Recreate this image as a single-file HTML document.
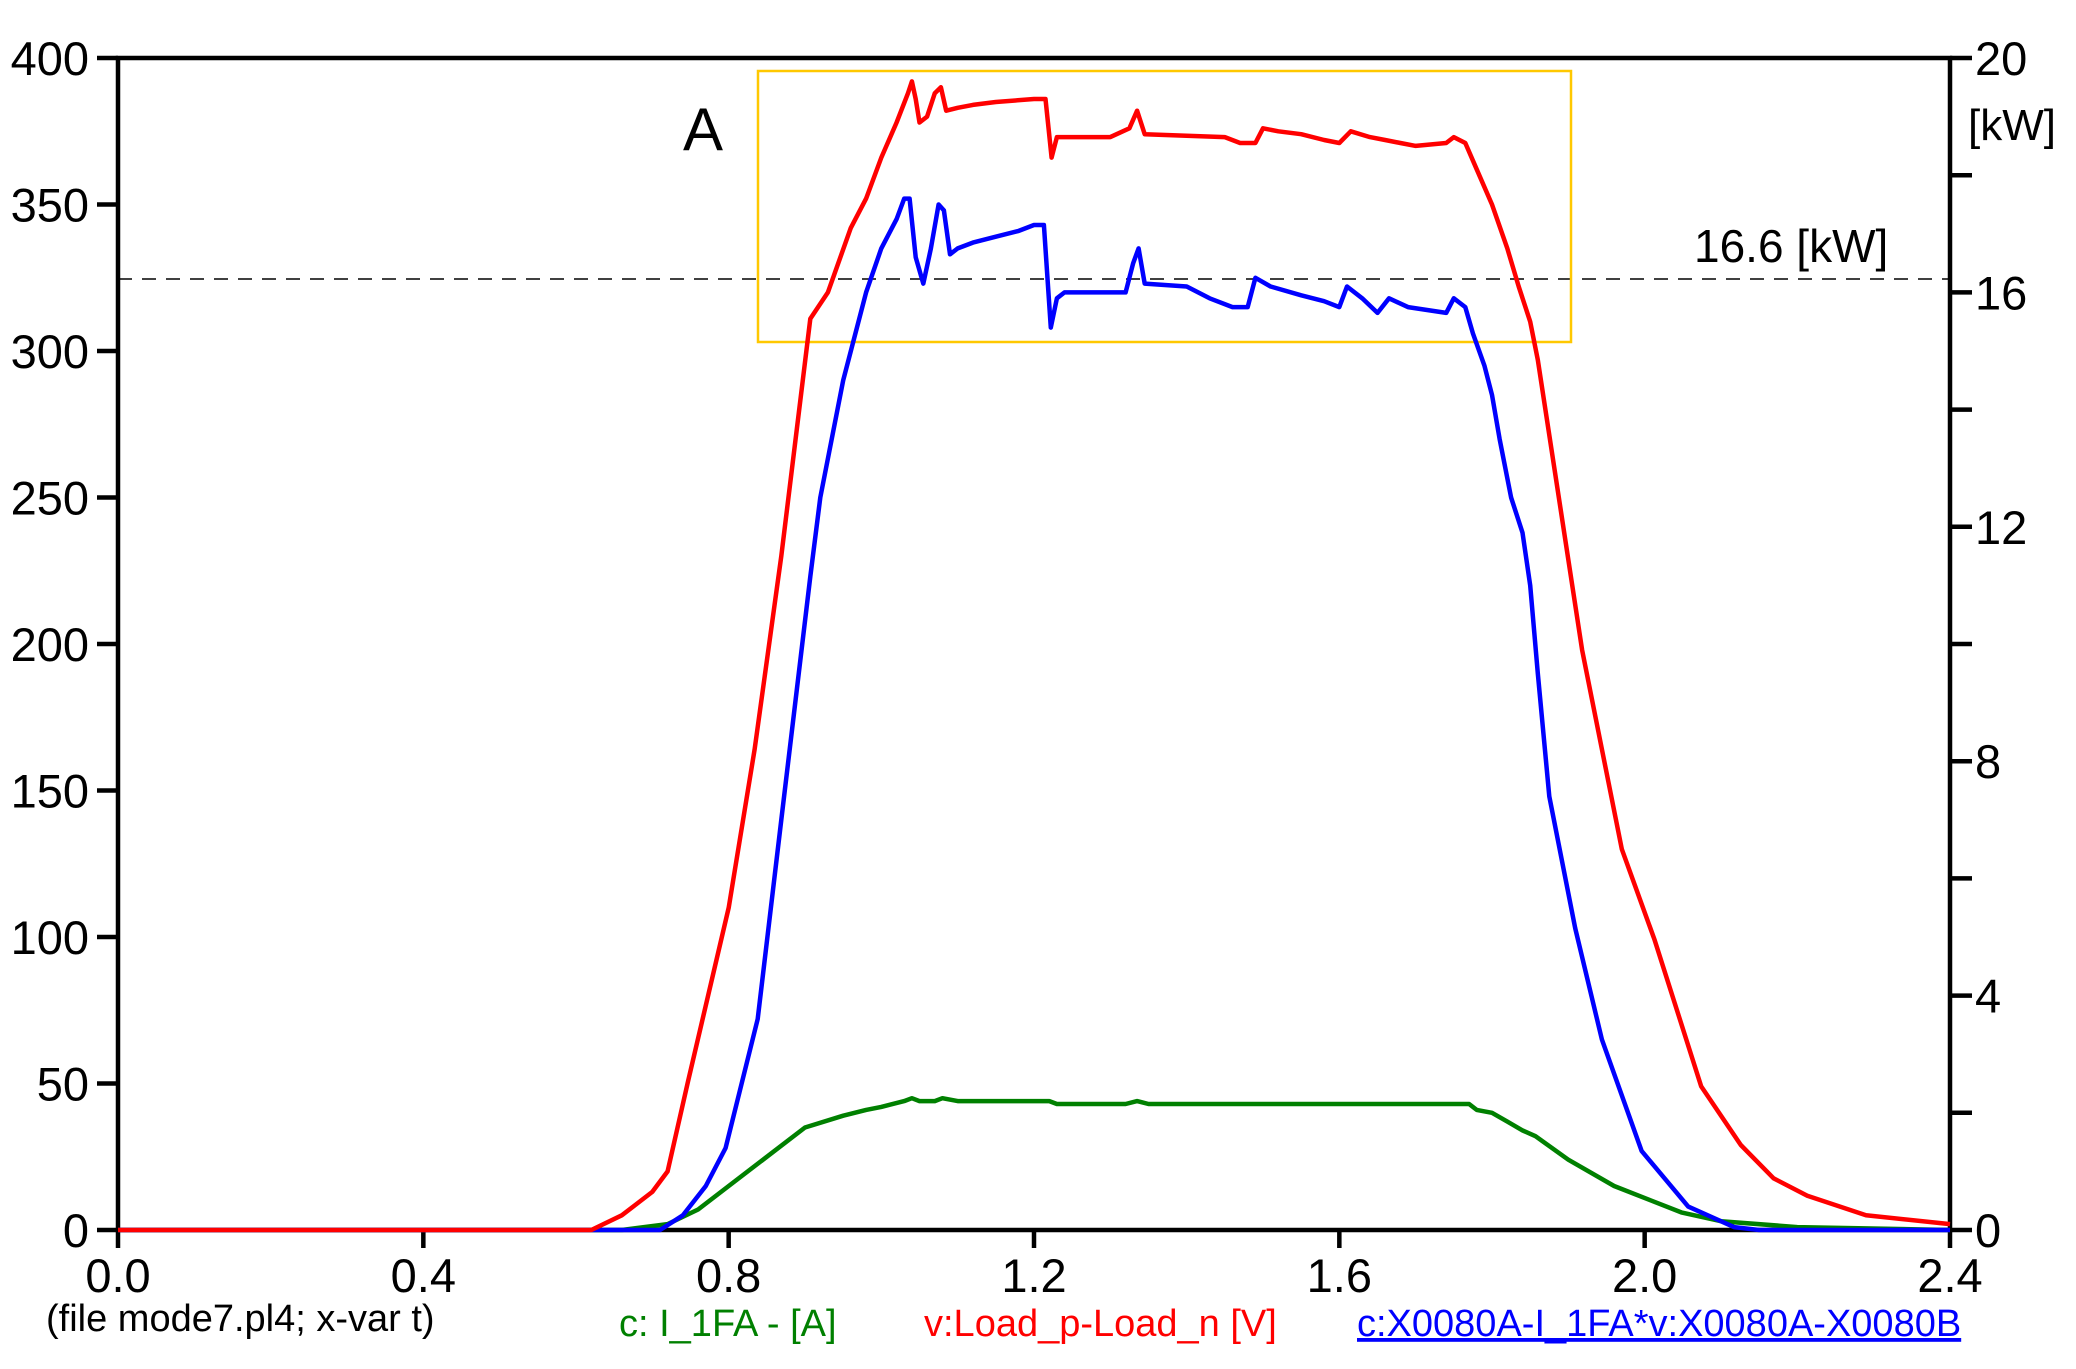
<!DOCTYPE html>
<html><head><meta charset="utf-8"><style>
html,body{margin:0;padding:0;background:#fff;}
svg{display:block;font-family:"Liberation Sans",Arial,sans-serif;}
</style></head><body>
<svg id="s" width="2076" height="1369" viewBox="0 0 2076 1369" xmlns="http://www.w3.org/2000/svg">
<rect width="2076" height="1369" fill="#fff"/>
<g id="ax" stroke="#000" stroke-width="4.5" fill="none"></g>
<line x1="118" y1="279" x2="1950" y2="279" stroke="#000" stroke-width="1.5" stroke-dasharray="14,10"/>
<rect x="758" y="71" width="813" height="271" fill="none" stroke="#FFC800" stroke-width="2.5"/>
<g id="series" fill="none" stroke-width="4.5" stroke-linejoin="round"></g>
<g id="lbl" font-size="47" fill="#000"></g>
<text x="683" y="150" font-size="60">A</text>
<text x="1694" y="262" font-size="46">16.6 [kW]</text>
<text x="1968" y="140" font-size="44">[kW]</text>
<text x="46" y="1331" font-size="38">(file mode7.pl4; x-var t)</text>
<text x="619" y="1336" font-size="38" fill="#008000">c: I_1FA - [A]</text>
<text x="924" y="1336" font-size="38" fill="#ff0000">v:Load_p-Load_n [V]</text>
<text x="1357" y="1336" font-size="38" fill="#0000ff" text-decoration="underline">c:X0080A-I_1FA*v:X0080A-X0080B</text>
</svg>
<script>
var X0=118,X1=1950,Y0=1230,Y1=58;
function px(t){return X0+t/2.4*(X1-X0);}
function py(v){return Y0-v/400*(Y0-Y1);}
var ns="http://www.w3.org/2000/svg";
function el(p,n,a,txt){var e=document.createElementNS(ns,n);for(var k in a)e.setAttribute(k,a[k]);if(txt!==undefined)e.textContent=txt;p.appendChild(e);return e;}
var ax=document.getElementById('ax'),lb=document.getElementById('lbl');
el(ax,'rect',{x:X0,y:Y1,width:X1-X0,height:Y0-Y1});
for(var v=0;v<=400;v+=50){var y=py(v);el(ax,'line',{x1:97,y1:y,x2:X0,y2:y});el(lb,'text',{x:89,y:y+17,'text-anchor':'end'},String(v));}
for(var k=0;k<=20;k+=2){var y=py(k*20);el(ax,'line',{x1:X1,y1:y,x2:1972,y2:y});if(k%4==0)el(lb,'text',{x:1975,y:y+17},String(k));}
for(var t=0;t<=2.401;t+=0.4){var x=px(t);el(ax,'line',{x1:x,y1:Y0,x2:x,y2:1248});el(lb,'text',{x:x,y:1292,'text-anchor':'middle'},t.toFixed(1));}
var red=[[0,0],[0.62,0],[0.66,5],[0.7,13],[0.72,20],[0.747,51],[0.8,110],[0.834,164],[0.869,230],[0.907,311],[0.93,320],[0.96,342],[0.98,352],[1.0,366],[1.02,378],[1.035,388],[1.04,392],[1.045,386],[1.05,378],[1.06,380],[1.07,388],[1.078,390],[1.085,382],[1.1,383],[1.12,384],[1.15,385],[1.2,386],[1.215,386],[1.223,366],[1.23,373],[1.3,373],[1.325,376],[1.335,382],[1.345,374],[1.45,373],[1.47,371],[1.49,371],[1.5,376],[1.52,375],[1.55,374],[1.58,372],[1.6,371],[1.615,375],[1.64,373],[1.66,372],[1.68,371],[1.7,370],[1.74,371],[1.75,373],[1.765,371],[1.78,362],[1.8,350],[1.82,335],[1.835,322],[1.85,310],[1.86,297],[1.918,198],[1.97,130],[2.013,99],[2.074,49],[2.126,29],[2.169,17.6],[2.213,11.7],[2.29,5],[2.4,2]];
var blue=[[0,0],[0.71,0],[0.74,5],[0.77,15],[0.796,28],[0.838,72],[0.869,140],[0.907,223],[0.92,250],[0.95,290],[0.98,320],[1.0,335],[1.02,345],[1.03,352],[1.037,352],[1.045,332],[1.055,323],[1.065,335],[1.075,350],[1.082,348],[1.09,333],[1.1,335],[1.12,337],[1.15,339],[1.18,341],[1.2,343],[1.213,343],[1.222,308],[1.23,318],[1.24,320],[1.32,320],[1.33,330],[1.337,335],[1.345,323],[1.4,322],[1.43,318],[1.46,315],[1.48,315],[1.49,325],[1.51,322],[1.55,319],[1.58,317],[1.6,315],[1.61,322],[1.63,318],[1.65,313],[1.665,318],[1.69,315],[1.74,313],[1.75,318],[1.765,315],[1.775,306],[1.79,295],[1.8,285],[1.81,270],[1.825,250],[1.84,238],[1.85,220],[1.86,190],[1.875,148],[1.909,103],[1.944,65],[1.996,27],[2.057,8],[2.117,1],[2.15,0],[2.4,0]];
var green=[[0,0],[0.66,0],[0.72,2],[0.76,7],[0.8,15],[0.85,25],[0.9,35],[0.95,39],[0.98,41],[1.0,42],[1.03,44],[1.04,45],[1.05,44],[1.07,44],[1.08,45],[1.1,44],[1.22,44],[1.23,43],[1.32,43],[1.335,44],[1.35,43],[1.77,43],[1.78,41],[1.8,40],[1.82,37],[1.84,34],[1.857,32],[1.9,24],[1.96,15],[2.048,6],[2.1,3],[2.2,1],[2.4,0]];
var sg=document.getElementById('series');
function draw(d,c){el(sg,'polyline',{stroke:c,points:d.map(function(p){return px(p[0]).toFixed(1)+','+py(p[1]).toFixed(1);}).join(' ')});}
draw(green,'#008000');draw(blue,'#0000ff');draw(red,'#ff0000');
</script>
</body></html>
